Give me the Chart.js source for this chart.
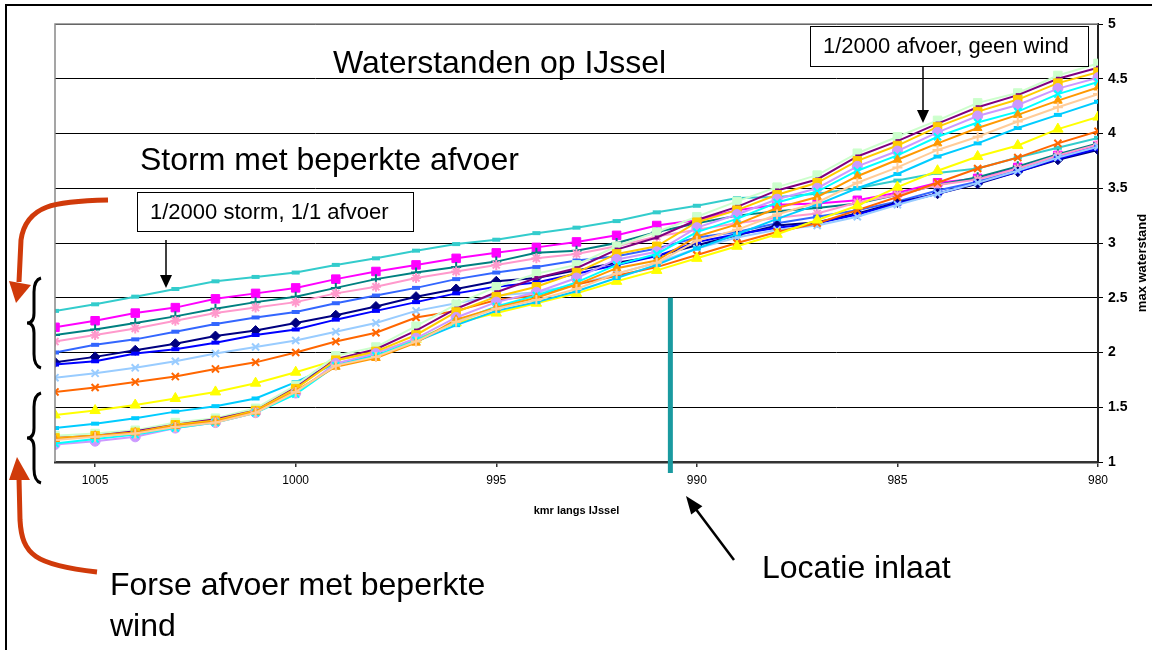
<!DOCTYPE html>
<html>
<head>
<meta charset="utf-8">
<script src="https://cdn.jsdelivr.net/npm/chart.js@4"></script>
<style>
  body { margin: 0; background: #fff; }
</style>
</head>
<body>
<canvas id="myChart" width="1152" height="650"></canvas>
<script>
// km along the IJssel, left to right
const kms = [1006,1005,1004,1003,1002,1001,1000,999,998,997,996,995,994,993,992,991,990,989,988,987,986,985,984,983,982,981,980];
const xTicks = [1005, 1000, 995, 990, 985, 980];
const yTicks = [1, 1.5, 2, 2.5, 3, 3.5, 4, 4.5, 5];

// storm with limited discharge
const turquoise = [2.38,2.44,2.51,2.58,2.65,2.69,2.73,2.80,2.86,2.93,2.99,3.03,3.09,3.14,3.20,3.28,3.34,3.41,3.42,3.45,3.50,3.57,3.64,3.68,3.78,3.87,3.96];
const magenta = [2.23,2.29,2.36,2.41,2.49,2.54,2.59,2.67,2.74,2.80,2.86,2.91,2.96,3.01,3.07,3.16,3.21,3.30,3.35,3.36,3.39,3.46,3.55,3.59,3.69,3.80,3.89];
const teal = [2.16,2.21,2.27,2.33,2.40,2.46,2.51,2.59,2.67,2.73,2.78,2.83,2.91,2.93,3.00,3.10,3.18,3.25,3.29,3.32,3.36,3.44,3.53,3.60,3.70,3.81,3.91];
const pink = [2.10,2.16,2.22,2.29,2.36,2.41,2.46,2.54,2.60,2.68,2.74,2.80,2.86,2.90,2.97,3.06,3.12,3.18,3.23,3.27,3.37,3.44,3.53,3.58,3.68,3.80,3.90];
const royalBlue = [2.00,2.07,2.12,2.19,2.26,2.32,2.37,2.45,2.52,2.59,2.67,2.73,2.78,2.84,2.88,2.95,3.05,3.10,3.18,3.24,3.30,3.38,3.48,3.56,3.66,3.78,3.88];
const navy = [1.91,1.96,2.02,2.08,2.15,2.20,2.27,2.34,2.42,2.51,2.58,2.65,2.68,2.75,2.82,2.88,2.98,3.07,3.16,3.19,3.27,3.37,3.45,3.54,3.65,3.76,3.85];
const blue = [1.89,1.92,1.99,2.03,2.09,2.16,2.21,2.30,2.38,2.46,2.54,2.60,2.64,2.72,2.80,2.88,3.01,3.08,3.14,3.18,3.26,3.36,3.45,3.55,3.65,3.77,3.86];
const lightBlue = [1.77,1.81,1.86,1.92,1.99,2.05,2.11,2.19,2.27,2.38,2.45,2.52,2.55,2.62,2.72,2.82,2.95,3.05,3.12,3.16,3.24,3.35,3.45,3.55,3.66,3.78,3.88];
const orangeRed = [1.64,1.68,1.73,1.78,1.85,1.91,2.00,2.10,2.18,2.32,2.38,2.48,2.52,2.62,2.70,2.78,2.89,3.00,3.10,3.18,3.30,3.42,3.55,3.68,3.78,3.91,4.02];
const yellow = [1.43,1.47,1.52,1.58,1.64,1.72,1.82,1.93,2.00,2.12,2.27,2.36,2.45,2.54,2.65,2.75,2.86,2.97,3.08,3.21,3.34,3.51,3.66,3.79,3.89,4.04,4.15];
const skyBlue = [1.31,1.35,1.40,1.46,1.51,1.58,1.73,1.90,1.97,2.10,2.25,2.38,2.46,2.56,2.68,2.80,2.95,3.08,3.22,3.35,3.50,3.63,3.79,3.91,4.05,4.17,4.29];

// high discharge with limited wind
const peach = [1.20,1.23,1.26,1.32,1.36,1.45,1.64,1.88,1.96,2.10,2.28,2.40,2.48,2.58,2.72,2.82,3.02,3.12,3.26,3.37,3.55,3.69,3.85,3.97,4.11,4.24,4.36];
const orange = [1.21,1.24,1.27,1.33,1.37,1.46,1.65,1.87,1.95,2.09,2.30,2.41,2.50,2.62,2.77,2.84,3.06,3.17,3.32,3.42,3.61,3.76,3.91,4.05,4.17,4.30,4.42];
const cyan = [1.17,1.21,1.25,1.31,1.36,1.45,1.62,1.88,1.97,2.11,2.28,2.42,2.52,2.64,2.80,2.90,3.10,3.22,3.37,3.47,3.66,3.80,3.97,4.10,4.20,4.36,4.47];
const lavender = [1.16,1.19,1.23,1.31,1.36,1.45,1.63,1.90,1.99,2.13,2.32,2.46,2.55,2.68,2.85,2.92,3.14,3.26,3.40,3.50,3.70,3.84,4.01,4.16,4.26,4.41,4.51];
const gold = [1.22,1.24,1.27,1.34,1.38,1.47,1.67,1.93,2.01,2.16,2.37,2.51,2.60,2.73,2.90,2.97,3.19,3.30,3.44,3.55,3.75,3.89,4.06,4.20,4.31,4.46,4.56];
const purple = [1.22,1.24,1.28,1.34,1.39,1.47,1.68,1.94,2.03,2.20,2.40,2.55,2.68,2.77,2.94,3.05,3.21,3.33,3.48,3.58,3.79,3.93,4.09,4.24,4.35,4.50,4.60];
const lightGreen = [1.24,1.26,1.29,1.36,1.40,1.49,1.70,1.97,2.05,2.24,2.44,2.60,2.72,2.80,2.97,3.10,3.24,3.38,3.51,3.62,3.82,3.97,4.12,4.28,4.37,4.53,4.64];

// series: values, colour, marker
const series = [
  [peach, "#FFCC99", "cross", 5],
  [orange, "#FF9900", "triangle", 5],
  [cyan, "#00FFFF", "crossRot", 5],
  [lavender, "#CC99FF", "circle", 5],
  [gold, "#FFCC00", "rect", 6],
  [purple, "#800080", "line", 2],
  [lightGreen, "#CCFFCC", "rect", 6],
  [skyBlue, "#00CCFF", "line", 4],
  [yellow, "#FFFF00", "triangle", 6],
  [orangeRed, "#FF6600", "crossRot", 5],
  [lightBlue, "#99CCFF", "crossRot", 5],
  [blue, "#0000FF", "line", 4],
  [navy, "#000080", "rectRot", 5],
  [royalBlue, "#3366FF", "line", 4],
  [pink, "#FF99CC", "star", 5],
  [teal, "#008080", "cross", 5],
  [magenta, "#FF00FF", "rect", 6],
  [turquoise, "#33CCCC", "line", 4],
];

const datasets = series.map(s => ({
  data: kms.map((k, i) => ({ x: k, y: s[0][i] })),
  borderColor: s[1],
  backgroundColor: s[1],
  borderWidth: 2,
  pointStyle: s[2],
  pointRadius: s[3],
  pointBorderColor: s[1],
  pointBackgroundColor: s[1],
  pointBorderWidth: s[2] == "line" ? 4 : (s[2].startsWith("cross") || s[2] == "star" ? 2 : 1),
}));

function arrow(ctx, x1, y1, x2, y2, hl, hw) {
  const a = Math.atan2(y2 - y1, x2 - x1);
  ctx.beginPath();
  ctx.moveTo(x1, y1);
  ctx.lineTo(x2 - Math.cos(a) * hl * 0.8, y2 - Math.sin(a) * hl * 0.8);
  ctx.stroke();
  ctx.beginPath();
  ctx.moveTo(x2, y2);
  ctx.lineTo(x2 - Math.cos(a) * hl - Math.sin(a) * hw, y2 - Math.sin(a) * hl + Math.cos(a) * hw);
  ctx.lineTo(x2 - Math.cos(a) * hl + Math.sin(a) * hw, y2 - Math.sin(a) * hl - Math.cos(a) * hw);
  ctx.closePath();
  ctx.fill();
}

function brace(ctx, x, top, bottom) {
  const mid = (top + bottom) / 2;
  ctx.beginPath();
  ctx.moveTo(x + 7, top);
  ctx.quadraticCurveTo(x, top + 2, x, top + 14);
  ctx.lineTo(x, mid - 10);
  ctx.quadraticCurveTo(x, mid, x - 7, mid);
  ctx.quadraticCurveTo(x, mid, x, mid + 10);
  ctx.lineTo(x, bottom - 14);
  ctx.quadraticCurveTo(x, bottom - 2, x + 7, bottom);
  ctx.stroke();
}

function textBox(ctx, txt, x, y, w, h) {
  ctx.fillStyle = "#fff";
  ctx.fillRect(x, y, w, h);
  ctx.strokeStyle = "#000";
  ctx.lineWidth = 1;
  ctx.strokeRect(x + 0.5, y + 0.5, w, h);
  ctx.fillStyle = "#000";
  ctx.font = "22px Arial, 'Liberation Sans'";
  ctx.textAlign = "left";
  ctx.textBaseline = "middle";
  ctx.fillText(txt, x + 13, y + h / 2 + 1);
}

const overlay = {
  id: "overlay",
  beforeDraw(chart) {
    const ctx = chart.ctx;
    ctx.save();
    ctx.fillStyle = "#fff";
    ctx.fillRect(0, 0, chart.width, chart.height);
    ctx.restore();
  },
  afterDatasetsDraw(chart) {
    // location of the inlet
    const ctx = chart.ctx;
    const xs = chart.scales.x, ys = chart.scales.y;
    const px = xs.getPixelForValue(990.66);
    ctx.save();
    ctx.strokeStyle = "#1A9AA0";
    ctx.lineWidth = 5;
    ctx.beginPath();
    ctx.moveTo(px, ys.getPixelForValue(2.5));
    ctx.lineTo(px, ys.getPixelForValue(1) + 11);
    ctx.stroke();
    ctx.restore();
  },
  afterDraw(chart) {
    const ctx = chart.ctx;
    const a = chart.chartArea;
    ctx.save();
    // grey plot border left/top
    ctx.strokeStyle = "#888";
    ctx.lineWidth = 1.5;
    ctx.beginPath();
    ctx.moveTo(a.left, a.bottom);
    ctx.lineTo(a.left, a.top);
    ctx.lineTo(a.right, a.top);
    ctx.stroke();

    // outer frame (right edge falls outside the picture)
    ctx.strokeStyle = "#000";
    ctx.lineWidth = 2;
    ctx.strokeRect(6, 5, 1160, 660);

    // big texts
    ctx.fillStyle = "#000";
    ctx.font = "32px Arial, 'Liberation Sans'";
    ctx.textBaseline = "middle";
    ctx.textAlign = "left";
    ctx.fillText("Waterstanden op IJssel", 333, 64);
    ctx.fillText("Storm met beperkte afvoer", 140, 161);
    ctx.fillText("Locatie inlaat", 762, 569);
    ctx.fillText("Forse afvoer met beperkte", 110, 586);
    ctx.fillText("wind", 110, 627);

    textBox(ctx, "1/2000 storm, 1/1 afvoer", 137, 192, 276, 39);
    textBox(ctx, "1/2000 afvoer, geen wind", 810, 26, 278, 40);

    // black arrows
    ctx.strokeStyle = "#000";
    ctx.fillStyle = "#000";
    ctx.lineWidth = 1.5;
    arrow(ctx, 166, 240, 166, 288, 13, 6);
    arrow(ctx, 923, 66, 923, 123, 13, 6);
    ctx.lineWidth = 2.5;
    arrow(ctx, 734, 560, 686, 496, 18, 7);

    // braces
    ctx.lineWidth = 3;
    brace(ctx, 34, 278, 368);
    brace(ctx, 34, 393, 483);

    // red curved arrows
    ctx.strokeStyle = "#D03A0A";
    ctx.fillStyle = "#D03A0A";
    ctx.lineWidth = 5;
    ctx.beginPath();
    ctx.moveTo(108, 200);
    ctx.bezierCurveTo(55, 201, 26, 205, 21, 240);
    ctx.lineTo(19, 282);
    ctx.stroke();
    ctx.beginPath();
    ctx.moveTo(9, 281);
    ctx.lineTo(31, 285);
    ctx.lineTo(16, 303);
    ctx.closePath();
    ctx.fill();

    ctx.beginPath();
    ctx.moveTo(97, 572);
    ctx.bezierCurveTo(35, 565, 22, 555, 20, 520);
    ctx.lineTo(19, 478);
    ctx.stroke();
    ctx.beginPath();
    ctx.moveTo(9, 480);
    ctx.lineTo(30, 480);
    ctx.lineTo(17, 457);
    ctx.closePath();
    ctx.fill();

    // y axis title, reading upwards
    ctx.fillStyle = "#000";
    ctx.font = "bold 13px 'Liberation Sans Narrow', 'Arial Narrow', Arial";
    ctx.translate(1142, 263);
    ctx.rotate(-Math.PI / 2);
    ctx.textAlign = "center";
    ctx.textBaseline = "middle";
    ctx.fillText("max waterstand", 0, 0);
    ctx.restore();
  }
};

var ctx = document.getElementById("myChart").getContext("2d");

var chart1 = new Chart(ctx, {
  type: "line",
  data: { datasets: datasets },
  options: {
    responsive: false,
    animation: false,
    events: [],
    layout: { padding: { left: 55, top: 24, right: 0, bottom: 128 } },
    plugins: { legend: { display: false }, tooltip: { enabled: false } },
    scales: {
      x: {
        type: "linear",
        reverse: true,
        min: 980,
        max: 1006,
        afterBuildTicks: (s) => { s.ticks = xTicks.map(v => ({ value: v })); },
        afterFit: (s) => { s.height = 60; },
        grid: { drawOnChartArea: false, drawTicks: true, tickLength: 5, color: "#333", lineWidth: 1.5 },
        border: { color: "#333", width: 2.5 },
        ticks: { color: "#000", padding: 6, maxRotation: 0, callback: (v) => String(v), font: { family: "'Liberation Sans Narrow', 'Arial Narrow', Arial", size: 12 } },
        title: { display: true, text: "kmr langs IJssel", color: "#000", padding: { top: 0, bottom: 4 }, font: { family: "'Liberation Sans Narrow', 'Arial Narrow', Arial", size: 11, weight: "bold" } },
      },
      y: {
        position: "right",
        min: 1,
        max: 5,
        afterBuildTicks: (s) => { s.ticks = yTicks.map(v => ({ value: v })); },
        afterFit: (s) => { s.width = 54; },
        grid: { color: "#000", lineWidth: 1, tickLength: 5 },
        border: { color: "#222", width: 2 },
        ticks: { color: "#000", padding: 5, callback: (v) => String(v), font: { family: "Arial, 'Liberation Sans'", size: 14, weight: "bold" } },
      },
    },
  },
  plugins: [overlay],
});
</script>
</body>
</html>
